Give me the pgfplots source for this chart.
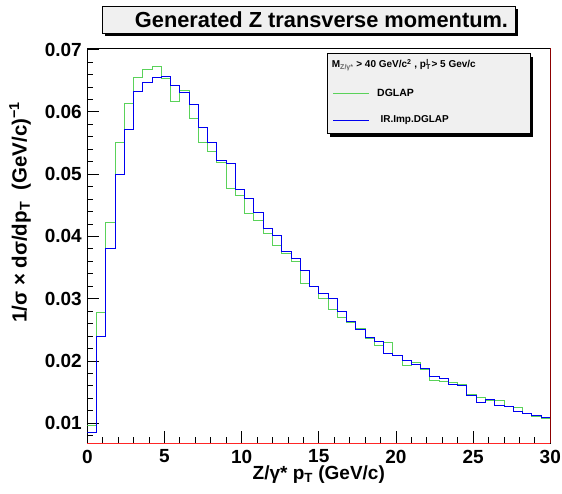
\documentclass[border=0pt]{standalone}
\usepackage{pgfplots}
\pgfplotsset{compat=1.18}
\usepackage{pgfplotstable}
\usepackage{fontspec}
\setmainfont{Liberation Sans}
\usetikzlibrary{shadows}

\definecolor{rootgreen}{RGB}{90,210,90}
\definecolor{rootblue}{RGB}{0,0,240}
\definecolor{boxfill}{RGB}{240,240,240}
\definecolor{framered}{RGB}{140,0,0}

% bin left edges (0.6 GeV bins), last row closes the histogram at 30
\pgfplotstableread{
x    dglap  irimp
0.0  0.0096 0.0085
0.6  0.0278 0.0239
1.2  0.0422 0.0380
1.8  0.0551 0.0500
2.4  0.0613 0.0572
3.0  0.0655 0.0632
3.6  0.0668 0.0647
4.2  0.0673 0.0655
4.8  0.0654 0.0657
5.4  0.0617 0.0642
6.0  0.0634 0.0631
6.6  0.0590 0.0611
7.2  0.0551 0.0575
7.8  0.0537 0.0550
8.4  0.0518 0.0522
9.0  0.0477 0.0517
9.6  0.0466 0.0475
10.2 0.0436 0.0461
10.8 0.0426 0.0439
11.4 0.0405 0.0413
12.0 0.0386 0.0402
12.6 0.0372 0.0375
13.2 0.0360 0.0365
13.8 0.0325 0.0345
14.4 0.0319 0.0320
15.0 0.0300 0.0309
15.6 0.0283 0.0300
16.2 0.0270 0.0280
16.8 0.0261 0.0264
17.4 0.0252 0.0251
18.0 0.0236 0.0237
18.6 0.0224 0.0231
19.2 0.0229 0.0212
19.8 0.0209 0.0209
20.4 0.0192 0.0200
21.0 0.0198 0.0195
21.6 0.0187 0.0188
22.2 0.0169 0.0175
22.8 0.0167 0.0171
23.4 0.0165 0.0162
24.0 0.0162 0.0160
24.6 0.0146 0.0145
25.2 0.0142 0.0134
25.8 0.0137 0.0138
26.4 0.0137 0.0129
27.0 0.0126 0.0126
27.6 0.0125 0.0118
28.2 0.0115 0.0115
28.8 0.0110 0.0112
29.4 0.0107 0.0109
30.0 0.0107 0.0109
}\pthist

\begin{document}
\begin{tikzpicture}
\begin{axis}[
  scale only axis, width=463pt, height=395pt,
  at={(0pt,0pt)}, anchor=south west,
  xmin=0, xmax=30, ymin=0.00677, ymax=0.0702,
  xtick={0,5,10,15,20,25,30},
  minor xtick={0,1,...,30},
  ytick={0.01,0.02,0.03,0.04,0.05,0.06,0.07},
  yticklabels={0.01,0.02,0.03,0.04,0.05,0.06,0.07},
  minor ytick={0.008,0.010,...,0.070},
  scaled y ticks=false,
  tick align=inside, xtick pos=bottom, ytick pos=left,
  major tick length=12pt, minor tick length=6pt,
  tick style={black, line width=0.8pt},
  axis line style={black, line width=0.8pt},
  ticklabel style={font=\fontsize{19}{19}\selectfont\bfseries},
  /pgf/number format/assume math mode=true,
  xticklabel style={yshift=-3pt},
  yticklabel style={xshift=-2pt},
  xlabel={\bfseries Z/γ* p\textsubscript{T} (GeV/c)},
  xlabel style={font=\fontsize{19}{19}\selectfont, at={(axis description cs:0.5,0)}, anchor=base, yshift=-36pt},
  ylabel={\bfseries 1/σ × dσ/dp\textsubscript{T}\ \ (GeV/c)\textsuperscript{−1}},
  ylabel style={font=\fontsize{20.5}{20.5}\selectfont, at={(axis description cs:-0.145,0.585)}, anchor=center},
]
\addplot[const plot, color=rootgreen, line width=1pt] table[x=x, y=dglap] {\pthist};
\addplot[const plot, color=rootblue, line width=1pt] table[x=x, y=irimp] {\pthist};
\end{axis}

% frame colours of the original
\draw[red!85!white, line width=0.8pt] (0pt,0pt) -- (463pt,0pt);
\draw[framered, line width=1.6pt] (463pt,0pt) -- (463pt,395pt);

% title box
\draw[fill=boxfill, drop shadow={shadow xshift=2.5pt, shadow yshift=-2.5pt, fill=black, opacity=1}]
  (15pt,410pt) rectangle (427.7pt,436.6pt);
\node[font=\fontsize{21.8}{21.8}\selectfont\bfseries] at (234.2pt,423.3pt) {Generated Z transverse momentum.};

% legend
\draw[fill=boxfill, drop shadow={shadow xshift=3pt, shadow yshift=-3.5pt, fill=black, opacity=1}]
  (239.4pt,310pt) rectangle (442.7pt,390pt);
\node[anchor=base west, font=\fontsize{10}{10}\selectfont\bfseries, inner sep=0pt]
  at (244.4pt,375.3pt) {M\textsubscript{\color{black!60}Z/γ*} > 40 GeV/c\textsuperscript{2} , p\textsubscript{T}\hspace{-0.45em}\textsuperscript{l} > 5 Gev/c};
\draw[rootgreen, line width=0.8pt] (245.7pt,350.3pt) -- (281.7pt,350.3pt);
\node[anchor=west, font=\fontsize{10.5}{10.5}\selectfont\bfseries, inner sep=0pt] at (289.7pt,350.3pt) {DGLAP};
\draw[rootblue, line width=0.8pt] (245.7pt,323.3pt) -- (281.7pt,323.3pt);
\node[anchor=west, font=\fontsize{10}{10}\selectfont\bfseries, inner sep=0pt] at (293pt,323.3pt) {IR.Imp.DGLAP};

\pgfresetboundingbox
\useasboundingbox (-87.3pt,-49.7pt) rectangle (474.7pt,443.3pt);
\end{tikzpicture}
\end{document}
